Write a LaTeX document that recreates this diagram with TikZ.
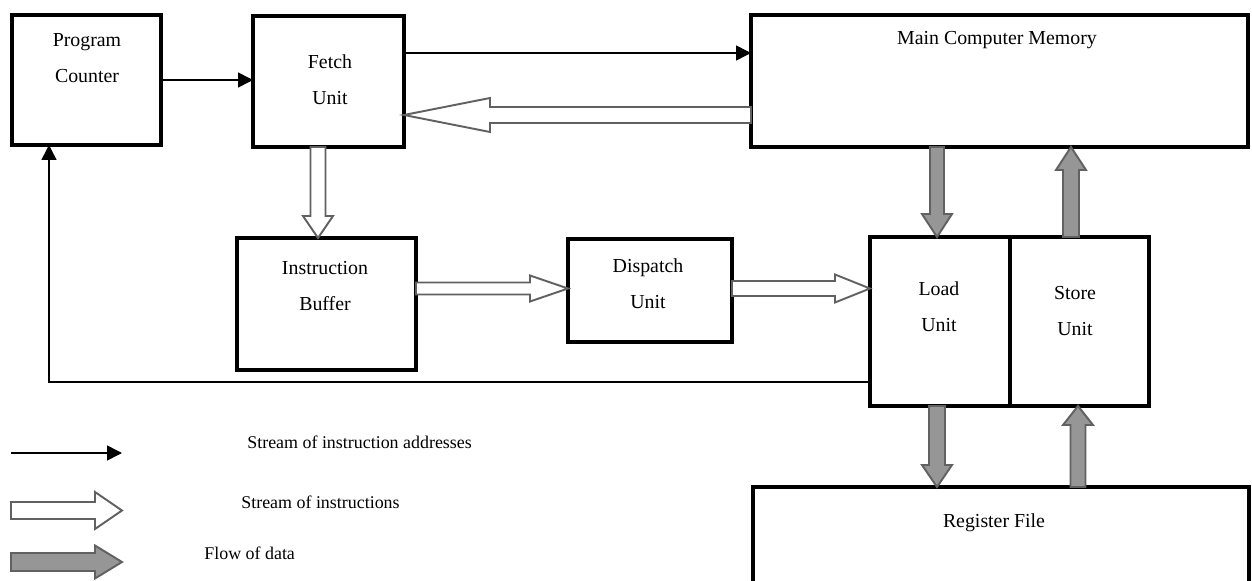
\documentclass[tikz,border=0pt]{standalone}
\usepackage{fontspec}
\setmainfont{Liberation Serif}
\usetikzlibrary{calc,arrows.meta}
\tikzset{
  box/.style={draw=black, line width=2pt, inner sep=0pt, outer sep=0pt, fill=white},
  boxtext/.style={align=center, inner sep=0pt, font=\fontsize{11.3}{20.4}\selectfont},
  legtext/.style={anchor=west, inner sep=0pt, font=\fontsize{10.2}{12}\selectfont},
  addr/.style={draw=black, line width=0.9pt, -{Triangle[length=8.5pt,width=8.5pt]}},
  instr/.style={draw=black!62, line width=1.1pt, fill=white, line join=miter},
  data/.style={draw=black!62, line width=1.1pt, fill=black!41, line join=miter}
}
% block arrows: #1 style, #2 start, #3 tip, #4 shaft half width, #5 head half width, #6 head length
\newcommand\rblk[6]{\draw[#1] ($(#2)+(0,-#4)$) -- ($(#3)+(-#6,-#4)$) -- ($(#3)+(-#6,-#5)$) -- (#3) -- ($(#3)+(-#6,#5)$) -- ($(#3)+(-#6,#4)$) -- ($(#2)+(0,#4)$) -- cycle;}
\newcommand\lblk[6]{\draw[#1] ($(#2)+(0,-#4)$) -- ($(#3)+(#6,-#4)$) -- ($(#3)+(#6,-#5)$) -- (#3) -- ($(#3)+(#6,#5)$) -- ($(#3)+(#6,#4)$) -- ($(#2)+(0,#4)$) -- cycle;}
\newcommand\dblk[6]{\draw[#1] ($(#2)+(-#4,0)$) -- ($(#3)+(-#4,-#6)$) -- ($(#3)+(-#5,-#6)$) -- (#3) -- ($(#3)+(#5,-#6)$) -- ($(#3)+(#4,-#6)$) -- ($(#2)+(#4,0)$) -- cycle;}
\newcommand\ublk[6]{\draw[#1] ($(#2)+(-#4,0)$) -- ($(#3)+(-#4,#6)$) -- ($(#3)+(-#5,#6)$) -- (#3) -- ($(#3)+(#5,#6)$) -- ($(#3)+(#4,#6)$) -- ($(#2)+(#4,0)$) -- cycle;}
\begin{document}
\begin{tikzpicture}[x=0.02cm, y=-0.02cm]
\useasboundingbox (0,0) rectangle (1252,581);
% boxes
\node[box, minimum width=149*0.02cm, minimum height=130*0.02cm] (pc) at (86.5,80) {};
\node[box, minimum width=151*0.02cm, minimum height=131*0.02cm] (fetch) at (328.5,81.5) {};
\node[box, minimum width=497*0.02cm, minimum height=132*0.02cm] (mem) at (999.5,81) {};
\node[box, minimum width=179*0.02cm, minimum height=132*0.02cm] (ib) at (326.5,304) {};
\node[box, minimum width=164*0.02cm, minimum height=103*0.02cm] (disp) at (650,290.5) {};
\node[box, minimum width=140*0.02cm, minimum height=169*0.02cm] (load) at (940,321.5) {};
\node[box, minimum width=139*0.02cm, minimum height=169*0.02cm] (store) at (1079.5,321.5) {};
\node[box, minimum width=496*0.02cm, minimum height=133*0.02cm] (reg) at (1001,553.5) {};
% texts
\node[boxtext] (pct) at (87,58) {Program\\Counter};
\node[boxtext] (fetcht) at (330,80) {Fetch\\Unit};
\node[boxtext] (memt) at (997,40) {Main Computer Memory};
\node[boxtext] (ibt) at (325,286) {Instruction\\Buffer};
\node[boxtext] (dispt) at (648,284) {Dispatch\\Unit};
\node[boxtext] (loadt) at (939,307) {Load\\Unit};
\node[boxtext] (storet) at (1075,311) {Store\\Unit};
\node[boxtext] (regt) at (994,523) {Register File};
% helper coordinates
\coordinate (y53) at (0,53);
\coordinate (y115) at (0,115);
\coordinate (y288) at (0,288.5);
\coordinate (x318) at (318,0);
\coordinate (x937) at (937,0);
\coordinate (x1071) at (1071,0);
\coordinate (x1078) at (1078,0);
\coordinate (fb) at (49,382);
% black connectors
\draw[addr] (pc.east) -- (pc.east -| fetch.west);
\draw[addr] (fetch.east |- y53) -- (mem.west |- y53);
\draw[addr] (load.west |- fb) -| (fb |- pc.south);
% instruction streams
\lblk{instr}{mem.west |- y115}{fetch.east |- y115}{8}{17}{86}
\dblk{instr}{x318 |- fetch.south}{x318 |- ib.north}{7.5}{15}{22}
\rblk{instr}{ib.east |- y288}{disp.west |- y288}{6}{13}{38}
\rblk{instr}{disp.east |- y288}{load.west |- y288}{7.5}{14}{35}
% data flows
\dblk{data}{x937 |- mem.south}{x937 |- load.north}{7}{15}{23}
\ublk{data}{x1071 |- store.north}{x1071 |- mem.south}{8}{15}{23}
\dblk{data}{x937 |- load.south}{x937 |- reg.north}{8}{15}{22}
\ublk{data}{x1078 |- reg.north}{x1078 |- store.south}{7.5}{15}{19}
% legend
\coordinate (l1a) at (11,453);
\coordinate (l1b) at (122,453);
\coordinate (l2a) at (11,510.5);
\coordinate (l2b) at (122,510.5);
\coordinate (l3a) at (11,562);
\coordinate (l3b) at (122,562);
\draw[addr] (l1a) -- (l1b);
\rblk{instr}{l2a}{l2b}{8.5}{18.5}{27}
\rblk{data}{l3a}{l3b}{9}{16.5}{27}
\node[legtext] (leg1) at (247,442) {Stream of instruction addresses};
\node[legtext] (leg2) at (241,502) {Stream of instructions};
\node[legtext] (leg3) at (204,553) {Flow of data};
\end{tikzpicture}
\end{document}
